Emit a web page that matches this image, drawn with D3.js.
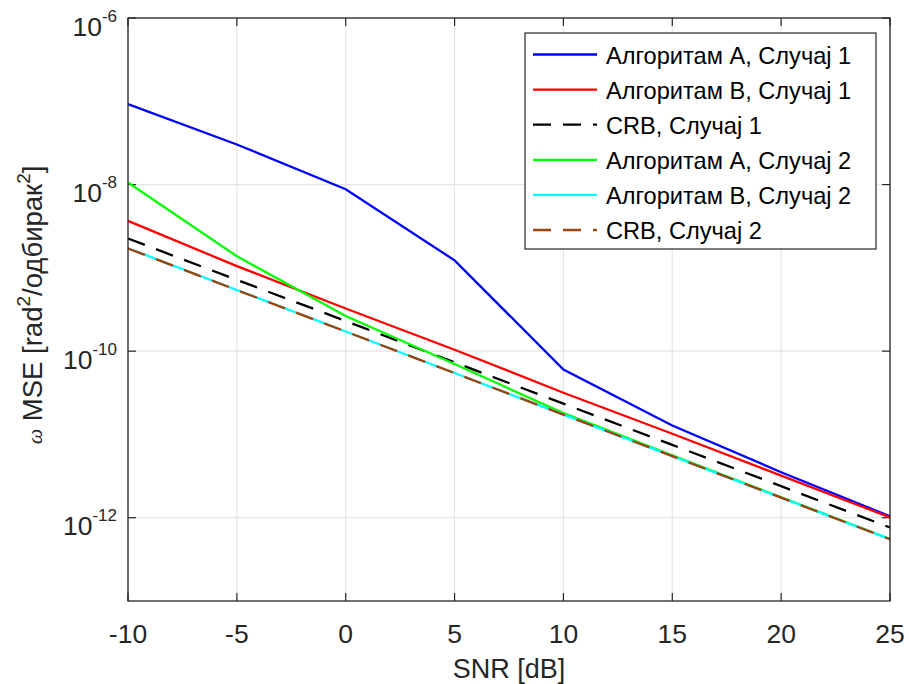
<!DOCTYPE html>
<html>
<head>
<meta charset="utf-8">
<script src="https://cdn.jsdelivr.net/npm/d3@7"></script>
<style>
  html, body { margin: 0; padding: 0; background: #fff; }
  svg { display: block; }
  text { font-family: "Liberation Sans", Arial, Helvetica, sans-serif; fill: #262626; }
</style>
</head>
<body>
<svg id="chart" width="909" height="684"></svg>
<script>
// SNR sweep in dB
const snr = [-10, -5, 0, 5, 10, 15, 20, 25];

// Mean squared error of the frequency estimate (rad^2 / sample^2)
const algA_case1 = [9.25e-8, 3.03e-8, 8.8e-9, 1.23e-9, 6.0e-11, 1.28e-11, 3.52e-12, 1.04e-12];
const algB_case1 = [3.66e-9, 1.05e-9, 3.25e-10, 1.04e-10, 3.17e-11, 1.02e-11, 3.2e-12, 1.01e-12];
const crb_case1  = [2.25e-9, 7.18e-10, 2.30e-10, 7.33e-11, 2.34e-11, 7.48e-12, 2.39e-12, 7.62e-13];
const algA_case2 = [1.06e-8, 1.38e-9, 2.64e-10, 7.0e-11, 1.8e-11, 5.6e-12, 1.76e-12, 5.55e-13];
const algB_case2 = [1.72e-9, 5.42e-10, 1.72e-10, 5.46e-11, 1.73e-11, 5.48e-12, 1.74e-12, 5.53e-13];
const crb_case2  = [1.71e-9, 5.41e-10, 1.72e-10, 5.45e-11, 1.73e-11, 5.48e-12, 1.74e-12, 5.52e-13];

const seriesNames = [
  "Алгоритам A, Случај 1",
  "Алгоритам B, Случај 1",
  "CRB, Случај 1",
  "Алгоритам A, Случај 2",
  "Алгоритам B, Случај 2",
  "CRB, Случај 2"
];
const seriesValues = [algA_case1, algB_case1, crb_case1, algA_case2, algB_case2, crb_case2];
const seriesColors = ["#0000ff", "#ff0000", "#000000", "#00ff00", "#00ffff", "#a0420e"];
const seriesDashed = [false, false, true, false, false, true];

const xTicks = [-10, -5, 0, 5, 10, 15, 20, 25];
const yTickExps = [-12, -10, -8, -6];

const svg = d3.select("#chart");
const plotLeft = 128, plotRight = 890, plotTop = 18, plotBottom = 601;

const x = d3.scaleLinear().domain([-10, 25]).range([plotLeft, plotRight]);
const y = d3.scaleLog().domain([1e-13, 1e-6]).range([plotBottom, plotTop]);

const axisColor = "#262626";
const gridColor = "#e5e5e5";

// grid
const grid = svg.append("g");
xTicks.forEach(t => {
  grid.append("line")
    .attr("x1", x(t)).attr("x2", x(t))
    .attr("y1", plotTop).attr("y2", plotBottom)
    .attr("stroke", gridColor).attr("stroke-width", 1.2);
});
yTickExps.forEach(e => {
  grid.append("line")
    .attr("x1", plotLeft).attr("x2", plotRight)
    .attr("y1", y(Math.pow(10, e))).attr("y2", y(Math.pow(10, e)))
    .attr("stroke", gridColor).attr("stroke-width", 1.2);
});

// ticks on all four sides (pointing inward)
const tickLen = 8;
const ticks = svg.append("g").attr("stroke", axisColor).attr("stroke-width", 1.2);
xTicks.forEach(t => {
  ticks.append("line").attr("x1", x(t)).attr("x2", x(t)).attr("y1", plotBottom).attr("y2", plotBottom - tickLen);
  ticks.append("line").attr("x1", x(t)).attr("x2", x(t)).attr("y1", plotTop).attr("y2", plotTop + tickLen);
});
yTickExps.forEach(e => {
  const yy = y(Math.pow(10, e));
  ticks.append("line").attr("x1", plotLeft).attr("x2", plotLeft + tickLen).attr("y1", yy).attr("y2", yy);
  ticks.append("line").attr("x1", plotRight).attr("x2", plotRight - tickLen).attr("y1", yy).attr("y2", yy);
});

// series
const line = d3.line()
  .x((d, i) => x(snr[i]))
  .y(d => y(d));

const plot = svg.append("g");
seriesValues.forEach((vals, k) => {
  plot.append("path")
    .datum(vals)
    .attr("d", line)
    .attr("fill", "none")
    .attr("stroke", seriesColors[k])
    .attr("stroke-width", 2.3)
    .attr("stroke-dasharray", seriesDashed[k] ? "18,12" : null);
});

// axes box
svg.append("rect")
  .attr("x", plotLeft).attr("y", plotTop)
  .attr("width", plotRight - plotLeft).attr("height", plotBottom - plotTop)
  .attr("fill", "none").attr("stroke", axisColor).attr("stroke-width", 1.3);

// x tick labels
xTicks.forEach(t => {
  svg.append("text")
    .attr("x", x(t)).attr("y", 643)
    .attr("text-anchor", "middle")
    .attr("font-size", 26.5)
    .text(t);
});

// y tick labels: 10^e
yTickExps.forEach(e => {
  const yy = y(Math.pow(10, e));
  const tx = svg.append("text")
    .attr("x", 117).attr("y", yy + 17.5)
    .attr("text-anchor", "end")
    .attr("font-size", 26.5);
  tx.append("tspan").text("10");
  tx.append("tspan").attr("font-size", 17).attr("dy", -14).text(String(e));
});

// axis titles
svg.append("text")
  .attr("x", (plotLeft + plotRight) / 2).attr("y", 678)
  .attr("text-anchor", "middle")
  .attr("font-size", 27)
  .text("SNR [dB]");

const ylab = svg.append("text")
  .attr("transform", "translate(42,305) rotate(-90)")
  .attr("text-anchor", "middle")
  .attr("font-size", 27.5);
ylab.append("tspan")
  .attr("font-family", "'Liberation Serif', 'DejaVu Serif', serif")
  .attr("font-style", "italic")
  .attr("font-size", 22)
  .text("ω");
ylab.append("tspan").text(" MSE [rad");
ylab.append("tspan").attr("font-size", 19).attr("dy", -12).text("2");
ylab.append("tspan").attr("dy", 12).text("/одбирак");
ylab.append("tspan").attr("font-size", 19).attr("dy", -12).text("2");
ylab.append("tspan").attr("dy", 12).text("]");

// legend
const lg = svg.append("g");
const lgX = 525, lgY = 33, lgW = 351, lgH = 216;
lg.append("rect")
  .attr("x", lgX).attr("y", lgY).attr("width", lgW).attr("height", lgH)
  .attr("fill", "#fff").attr("stroke", axisColor).attr("stroke-width", 1.2);
const rowY = d3.scalePoint().domain(d3.range(seriesNames.length)).range([54.5, 230]);
seriesNames.forEach((name, k) => {
  const cy = rowY(k);
  lg.append("line")
    .attr("x1", 533).attr("x2", 597)
    .attr("y1", cy).attr("y2", cy)
    .attr("stroke", seriesColors[k])
    .attr("stroke-width", 2.3)
    .attr("stroke-dasharray", seriesDashed[k] ? "18,12" : null);
  lg.append("text")
    .attr("x", 606).attr("y", cy + 9)
    .attr("font-size", 23.6)
    .style("fill", "#000")
    .text(name);
});
</script>
</body>
</html>
